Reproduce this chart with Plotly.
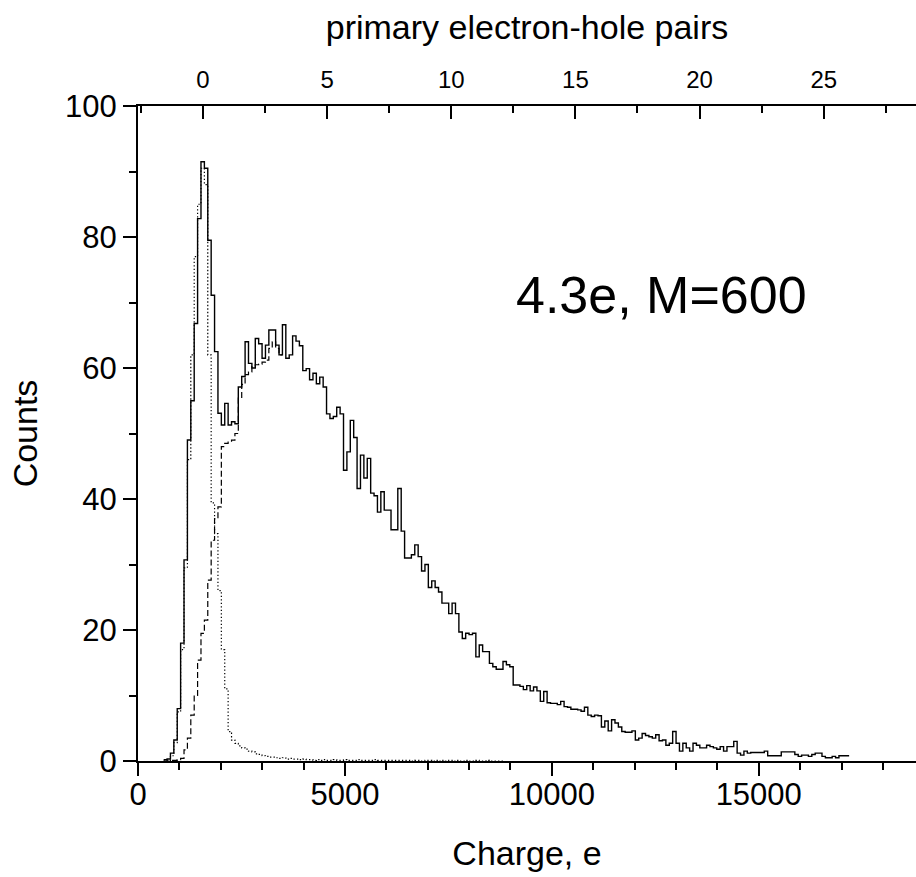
import numpy as np
import plotly.graph_objects as go

# ---- data ----
BIN_START_E = 620      # left edge of first histogram bin, electrons
BIN_WIDTH_E = 82       # histogram bin width, electrons

TOTAL_COUNTS = [
    0.2, 0.3, 1.2, 3.2, 8, 18, 30.7, 49, 55, 66.8,
    82.8, 91.5, 90.5, 79.5, 71.1, 62.5, 53.1, 51.3, 54.6, 51.3,
    51.8, 51.5, 57.1, 58.7, 64, 60.7, 60, 64.5, 63.7, 61.5,
    63.5, 65.8, 65.8, 63.5, 62, 66.6, 61.5, 62, 64.9, 64.1,
    63.4, 59.6, 59.9, 58.2, 59.2, 57.6, 58.6, 57.1, 53, 52.3,
    52.6, 54, 53, 44.4, 47.2, 52, 49.4, 41.6, 46.7, 43.2,
    46.2, 40.9, 40.5, 38, 41.1, 38.3, 38.3, 35.3, 35.3, 41.6,
    35.1, 31, 31, 31.5, 33, 31.2, 29, 30, 26.5, 27.5,
    26.5, 25.8, 24.1, 24.1, 22.5, 24.1, 22.5, 19.7, 18.7, 19.5,
    19.3, 19.5, 15.9, 17.7, 16.7, 16.7, 14.9, 14.4, 14.0, 14.0,
    15.2, 14.7, 14.4, 11.6, 11.6, 11.4, 10.9, 11.5, 10.7, 11.3,
    10.7, 9.1, 10.6, 8.9, 8.8, 8.8, 8.6, 9.1, 8.3, 8.2,
    7.9, 7.9, 7.8, 7.6, 8.2, 7.0, 6.8, 7.0, 6.9, 5.2,
    6.1, 4.6, 6.3, 5.8, 5.2, 4.5, 4.4, 4.4, 4.6, 3.2,
    3.5, 4.2, 3.9, 3.7, 3.5, 4.0, 3.1, 3.2, 2.4, 2.7,
    4.5, 2.7, 1.5, 2.7, 2.0, 1.5, 2.7, 2.4, 2.0, 2.0,
    2.4, 2.2, 2.0, 1.8, 2.2, 1.5, 2.2, 2.2, 3.0, 1.2,
    0.9, 1.5, 1.2, 1.3, 1.3, 1.3, 1.3, 1.5, 0.8, 0.8,
    0.8, 0.8, 1.4, 1.4, 1.4, 1.4, 1.0, 0.7, 0.9, 0.9,
    0.7, 1.0, 1.2, 1.2, 0.7, 0.5, 0.5, 0.7, 0.5, 0.8,
    0.8, 0.8,
]

PEDESTAL_COUNTS = [
    0, 0.1, 0.8, 2.8, 7.5, 17, 29.5, 46, 62, 77,
    85, 90.5, 88, 62, 39.4, 34.7, 26, 17, 11, 4.5,
    3.2, 2.7, 2.3, 2.0, 1.8, 1.5, 1.4, 1.1, 1.0, 0.8,
    0.7, 0.6, 0.6, 0.5, 0.4, 0.5, 0.3, 0.4, 0.3, 0.3,
    0.2, 0.3, 0.2, 0.2, 0.1, 0.2, 0.1, 0.2, 0.1, 0.1,
    0.2, 0.1, 0.1, 0.2, 0.1, 0.1, 0.1, 0.2, 0.1, 0.1,
    0.1, 0.1, 0.2, 0.1, 0.1, 0.1, 0.1, 0.1, 0.1, 0.1,
    0.1, 0.1, 0.1, 0, 0.1, 0.1, 0, 0.1, 0.1, 0,
    0.1, 0, 0.1, 0, 0.1, 0, 0.1, 0, 0, 0.1,
    0, 0, 0.1, 0, 0, 0.1, 0, 0, 0, 0,
]

SIGNAL_COUNTS = [
    0, 0, 0.1, 0.1, 0.2, 0.4, 1.7, 3.5, 7, 10,
    15.4, 19.5, 21.5, 27.6, 33.7, 37, 38.8, 48, 48.5, 48.7,
    49, 50, 55.4, 57.5, 59, 59.4, 60.2, 60.5, 60.6, 60.9,
    61.2, 63, 64, 63, 62,
]

PEDESTAL_POSITION_E = 1570   # charge of zero primary pairs
GAIN_E_PER_PAIR = 600        # M = 600
X_RANGE_E = [0, 18800]
Y_RANGE = [0, 100]
LABEL_TEXT = "4.3e, M=600"
LABEL_POS = (12655, 71.1)

FONT = "Liberation Sans, Arial, Helvetica, sans-serif"


def step_xy(counts):
    n = len(counts)
    edges = BIN_START_E + BIN_WIDTH_E * np.arange(n + 1)
    y = list(counts) + [counts[-1]]
    return edges, y


fig = go.Figure()

xp, yp = step_xy(PEDESTAL_COUNTS)
fig.add_trace(go.Scatter(x=xp, y=yp, mode="lines", name="pedestal",
                         line=dict(color="black", width=1.2, shape="hv", dash="1.3px,2.2px")))
xs, ys = step_xy(SIGNAL_COUNTS)
fig.add_trace(go.Scatter(x=xs, y=ys, mode="lines", name="signal",
                         line=dict(color="black", width=1.2, shape="hv", dash="6px,3px")))
xt, yt = step_xy(TOTAL_COUNTS)
fig.add_trace(go.Scatter(x=xt, y=yt, mode="lines", name="total",
                         line=dict(color="black", width=1.4, shape="hv")))

pair_range = [(X_RANGE_E[0] - PEDESTAL_POSITION_E) / GAIN_E_PER_PAIR,
              (X_RANGE_E[1] - PEDESTAL_POSITION_E) / GAIN_E_PER_PAIR]

axis_common = dict(showline=True, linewidth=2, linecolor="black", showgrid=False,
                   zeroline=False, tickwidth=2, tickcolor="black", ticklen=13,
                   automargin=False, tickformat="d")

fig.update_layout(
    width=916, height=877,
    margin=dict(l=138, r=0, t=106, b=116, pad=0),
    paper_bgcolor="white", plot_bgcolor="white",
    showlegend=False,
    font=dict(family=FONT, color="black", size=31),
    xaxis=dict(range=X_RANGE_E, tickmode="linear", tick0=0, dtick=5000,
               ticks="outside", tickfont=dict(size=31), ticklabelstandoff=-8,
               minor=dict(dtick=1000, ticks="outside", ticklen=7, tickwidth=2, tickcolor="black"),
               title=dict(text="Charge, e", font=dict(size=34), standoff=30),
               **axis_common),
    xaxis2=dict(overlaying="x", side="top", anchor="y", range=pair_range,
                tickmode="linear", tick0=0, dtick=5, ticks="inside",
                tickfont=dict(size=24), ticklabelstandoff=6,
                minor=dict(dtick=2.5, ticks="inside", ticklen=7, tickwidth=2, tickcolor="black"),
                title=dict(text="primary electron-hole pairs", font=dict(size=34), standoff=17),
                **axis_common),
    yaxis=dict(range=Y_RANGE, tickmode="linear", tick0=0, dtick=20,
               ticks="outside", tickfont=dict(size=31),
               minor=dict(dtick=10, ticks="outside", ticklen=7, tickwidth=2, tickcolor="black"),
               title=dict(text="Counts", font=dict(size=34), standoff=17),
               **axis_common),
    annotations=[dict(x=LABEL_POS[0], y=LABEL_POS[1], xref="x", yref="y",
                      text=LABEL_TEXT, showarrow=False,
                      font=dict(size=52, family=FONT, color="black"))],
)

# an invisible trace so the top axis is bound to data
fig.add_trace(go.Scatter(x=pair_range, y=[None, None], xaxis="x2", yaxis="y",
                         mode="lines", showlegend=False, hoverinfo="skip"))

fig.write_html(
    "out.html",
    config={"displayModeBar": False},
    post_script="document.body.style.margin='0px';document.body.style.overflow='hidden';",
)
